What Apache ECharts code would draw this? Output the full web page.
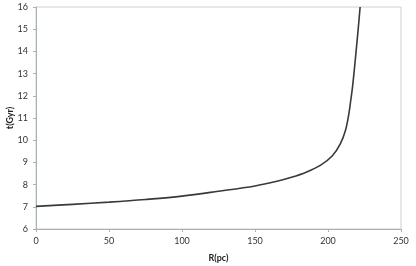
<!DOCTYPE html>
<html><head><meta charset="utf-8">
<script src="https://cdn.jsdelivr.net/npm/echarts@6/dist/echarts.min.js"></script>
<style>html,body{margin:0;padding:0;background:#fff}#c{width:416px;height:266px}</style>
</head><body><div id="c"></div>
<script>
var R = [0, 25, 50, 75, 100, 125, 150, 165, 175, 185, 195, 203, 208.5, 212, 214.2, 215.6, 216.8, 218.8, 220.6, 222];
var T = [7.02, 7.11, 7.21, 7.33, 7.48, 7.70, 7.94, 8.15, 8.33, 8.56, 8.88, 9.3, 9.85, 10.45, 11.15, 11.8, 12.4, 13.7, 14.95, 16];
var xTicks = [0, 50, 100, 150, 200, 250];
var yTicks = [6, 7, 8, 9, 10, 11, 12, 13, 14, 15, 16];
var FONT = 'Lato, "Open Sans", sans-serif';
var chart = echarts.init(document.getElementById('c'), null, {renderer: 'canvas'});
chart.setOption({
  animation: false,
  grid: {left: 36, top: 7, right: 15, bottom: 37, show: true, borderColor: '#cfcfcf', borderWidth: 1, containLabel: false, outerBoundsMode: 'none'},
  xAxis: {
    type: 'value', min: xTicks[0], max: xTicks[xTicks.length - 1], interval: 50,
    name: 'R(pc)', nameLocation: 'middle', nameGap: 25, nameMoveOverlap: false,
    nameTextStyle: {fontFamily: FONT, fontWeight: 'bold', fontSize: 9, color: '#222'},
    axisLine: {lineStyle: {color: '#a9b1b3'}},
    axisTick: {show: true, length: 3, lineStyle: {color: '#a9b1b3'}},
    axisLabel: {fontFamily: FONT, fontSize: 9, color: '#333', margin: 8},
    splitLine: {show: false}
  },
  yAxis: {
    type: 'value', min: yTicks[0], max: yTicks[yTicks.length - 1], interval: 1,
    name: 't(Gyr)', nameLocation: 'middle', nameGap: 21, nameMoveOverlap: false, nameRotate: 90,
    nameTextStyle: {fontFamily: FONT, fontWeight: 'bold', fontSize: 9, color: '#222'},
    axisLine: {show: true, lineStyle: {color: '#a9b1b3'}},
    axisTick: {show: true, length: 3, lineStyle: {color: '#a9b1b3'}},
    axisLabel: {fontFamily: FONT, fontSize: 9, color: '#333', margin: 8},
    splitLine: {show: false}
  },
  series: [{
    type: 'line', smooth: 0.35, showSymbol: false, clip: true,
    data: R.map(function (r, i) { return [r, T[i]]; }),
    lineStyle: {color: '#353b3d', width: 1.6}
  }]
});
</script></body></html>
